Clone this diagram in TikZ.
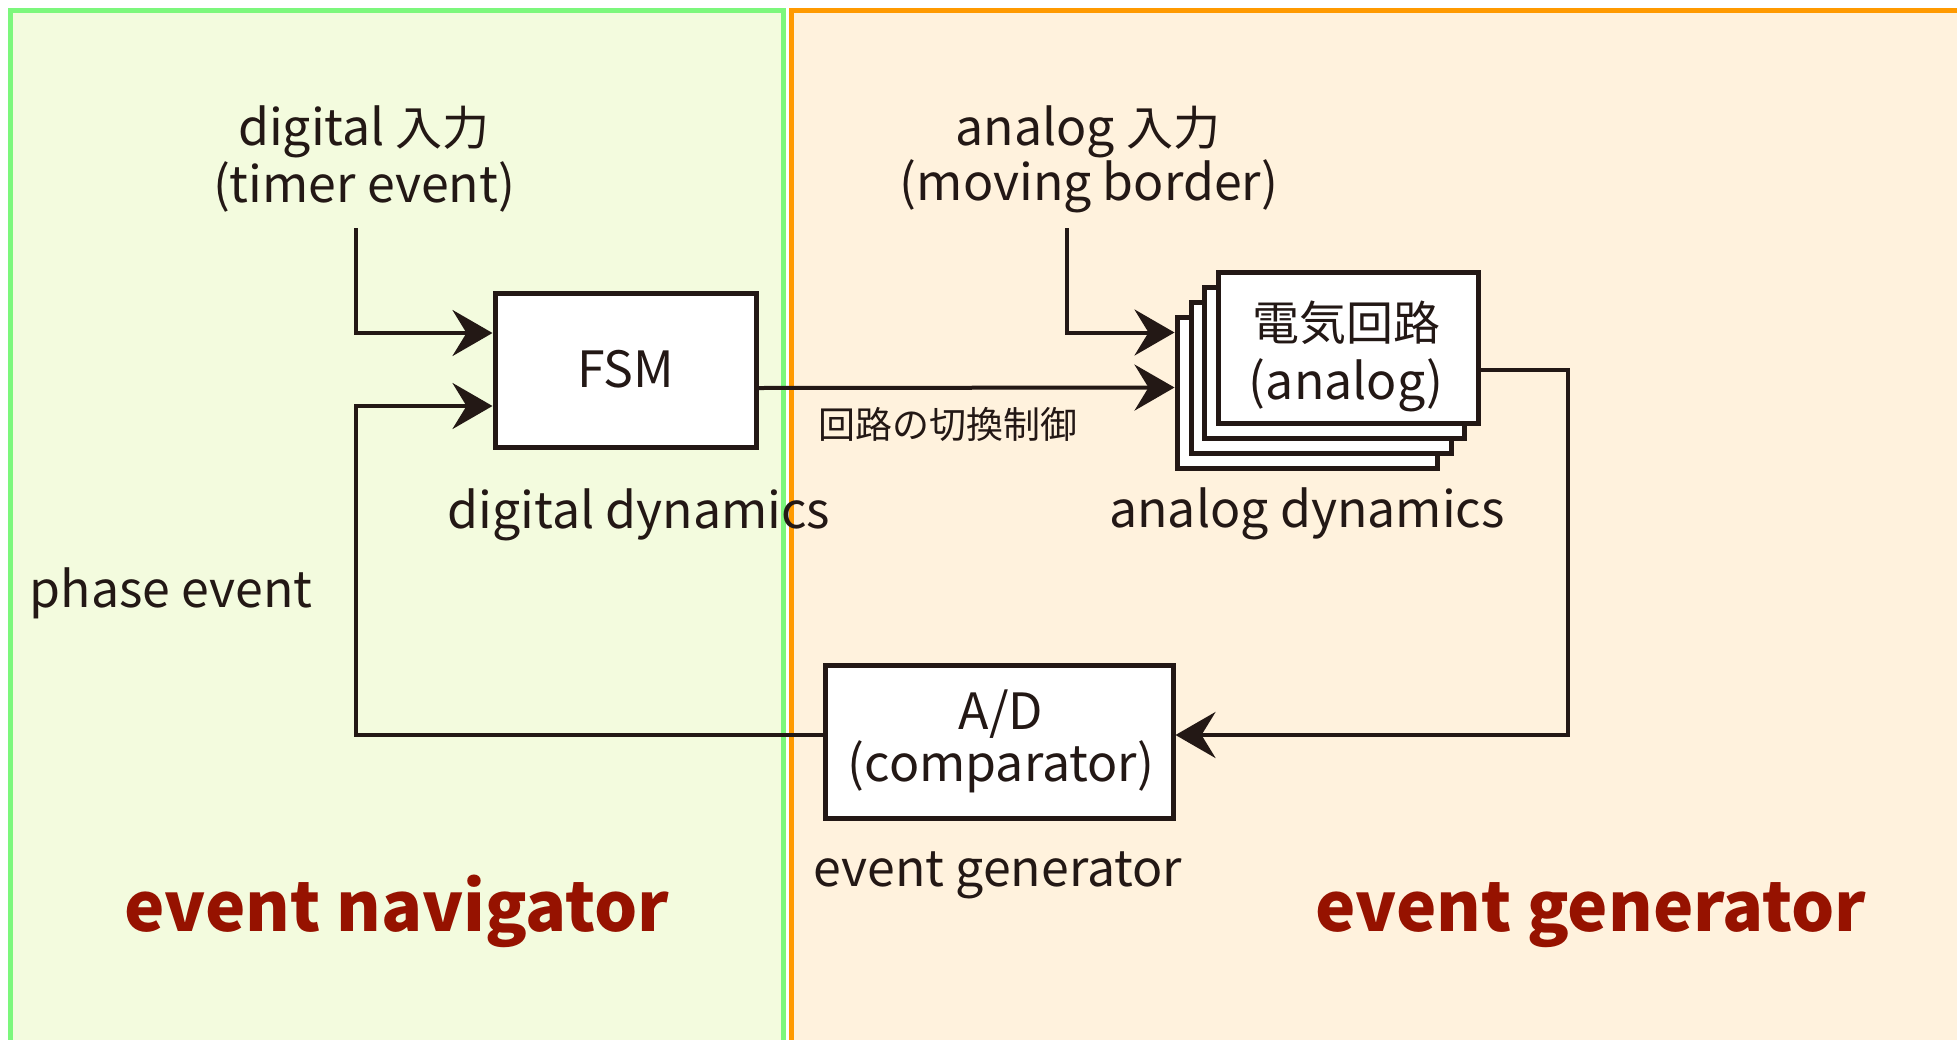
\documentclass[tikz,border=0pt]{standalone}
\usepackage{fontspec}
\setmainfont{Noto Sans CJK JP}
\usetikzlibrary{arrows.meta,calc}
\definecolor{ink}{HTML}{231815}
\definecolor{gfill}{HTML}{F3FBDE}
\definecolor{gline}{HTML}{7CF77C}
\definecolor{ofill}{HTML}{FFF2DD}
\definecolor{oline}{HTML}{FF9A00}
\definecolor{dred}{HTML}{961200}
\newcommand{\jpsz}[1]{{\fontsize{47}{47}\selectfont #1}}
\tikzset{
  blk/.style={draw=ink,line width=5pt,fill=white,rectangle,inner sep=0pt},
  conn/.style={draw=ink,line width=4pt},
  arr/.style={conn,-{Stealth[length=40pt,width=46pt,inset=14pt]}},
  lbl/.style={text=ink,font=\fontsize{50}{50}\selectfont,inner sep=0pt,anchor=base},
  small/.style={text=ink,font=\fontsize{37}{44}\selectfont,inner sep=0pt,anchor=base},
  title/.style={text=dred,font=\fontsize{68}{70}\selectfont\bfseries,inner sep=0pt,anchor=base},
}
\begin{document}
\begin{tikzpicture}[x=1pt,y=-1pt]
\useasboundingbox (0,0) rectangle (1957,1039);
\fill[white] (0,0) rectangle (1957,1039);
\begin{scope}
\clip (0,0) rectangle (1957,1039);
\draw[fill=gfill,draw=gline,line width=5pt] (10,10) rectangle (783,1070);
\draw[fill=ofill,draw=oline,line width=5pt] (791,10) rectangle (1990,1070);
\end{scope}
% boxes
\node[blk,minimum width=261pt,minimum height=154pt] (fsm) at (625.5,370) {};
\node[lbl] (fsmt) at (625.5,387) {FSM};
\node[blk,minimum width=260pt,minimum height=151pt] (l4) at (1307,392.5) {};
\node[blk,minimum width=260pt,minimum height=151pt] (l3) at (1321,377.5) {};
\node[blk,minimum width=260pt,minimum height=151pt] (l2) at (1334.5,362.5) {};
\node[blk,minimum width=260pt,minimum height=151pt] (ana) at (1348,347.5) {};
\node[lbl] (anat1) at (1346,340) {\jpsz{電気回路}};
\node[lbl] (anat2) at (1346,399) {(analog)};
\node[blk,minimum width=348pt,minimum height=153pt] (ad) at (999,741.5) {};
\node[lbl] (adt1) at (1001,729) {A/D};
\node[lbl] (adt2) at (1001,781) {(comparator)};
% labels
\node[lbl] (din1) at (364,145) {digital \jpsz{入力}};
\node[lbl] (din2) at (364,202) {(timer event)};
\node[lbl] (ain1) at (1088,145) {analog \jpsz{入力}};
\node[lbl] (ain2) at (1089,200) {(moving border)};
\node[lbl] (dd) at (639,528) {digital dynamics};
\node[lbl] (adyn) at (1307,527) {analog dynamics};
\node[lbl] (eg) at (998,886) {event generator};
\node[lbl] (pe) at (171,607) {phase event};
\node[small] (sw) at (948,438) {回路の切換制御};
\node[title] (tn) at (397,931) {event navigator};
\node[title] (tg) at (1591,931) {event generator};
% connector points
\coordinate (dsrc) at (356,228);
\coordinate (asrc) at (1067,228);
\coordinate (rt) at (1568,0);
\coordinate (lt) at (356,0);
\coordinate (fin1) at ($(fsm.west)+(0,-37)$);
\coordinate (fin2) at ($(fsm.west)+(0,36)$);
\coordinate (fout) at ($(fsm.east)+(0,18)$);
\coordinate (ain) at ($(l4.west)+(0,-60)$);
\coordinate (ain2p) at ($(l4.west)+(0,-5)$);
\coordinate (aout) at ($(ana.east)+(0,22.5)$);
\coordinate (ade) at ($(ad.east)+(0,-6.5)$);
\coordinate (adw) at ($(ad.west)+(0,-6.5)$);
% connectors
\draw[arr] (dsrc) |- (fin1);
\draw[arr] (fout) -- (ain2p);
\draw[arr] (asrc) |- (ain);
\draw[arr] (aout) -| (rt |- ade) -- (ade);
\draw[arr] (adw) -| (lt |- fin2) -- (fin2);
\end{tikzpicture}
\end{document}
